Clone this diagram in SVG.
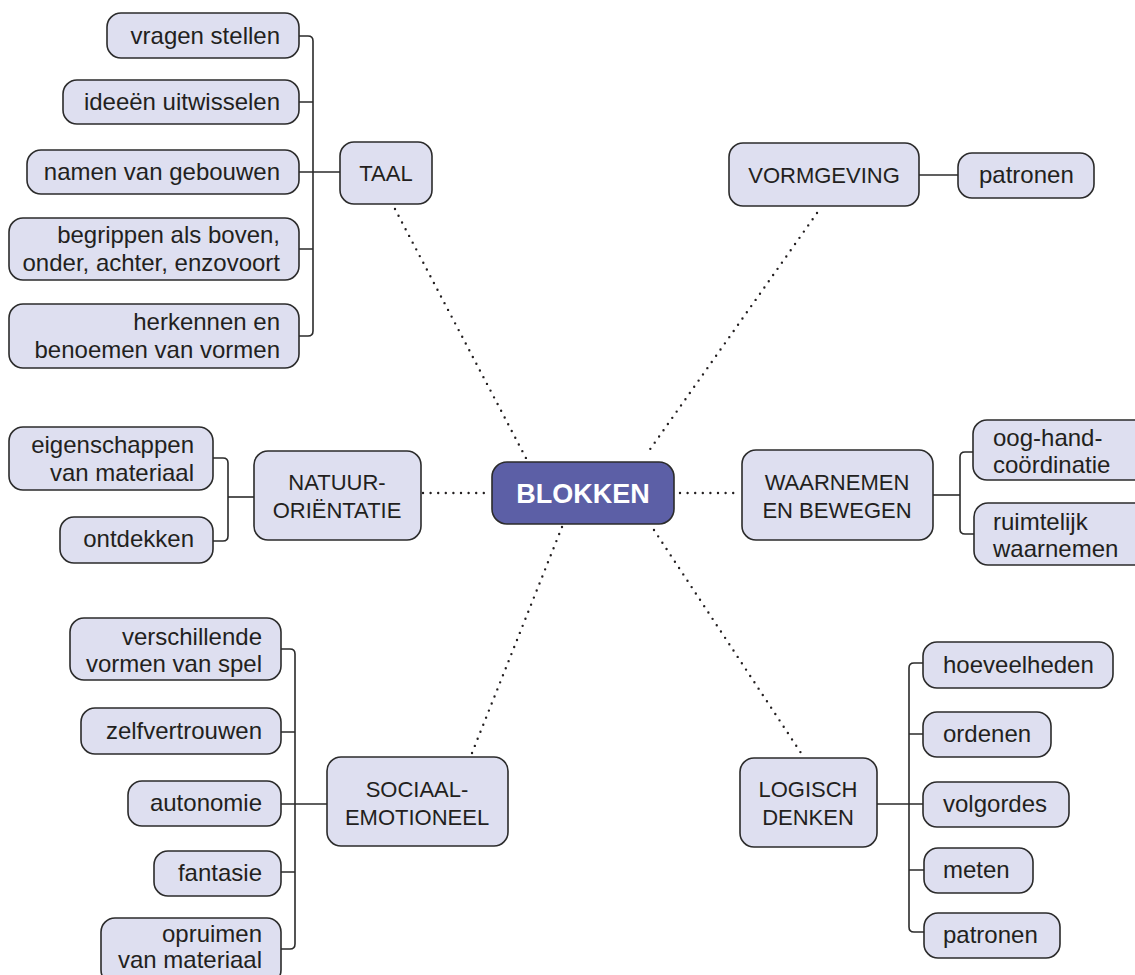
<svg xmlns="http://www.w3.org/2000/svg" width="1135" height="975" viewBox="0 0 1135 975">
<style>
.n rect{fill:#dedff0;stroke:#2b2b2b;stroke-width:1.6}
.c rect{fill:#5c5fa6;stroke:#2b2b2b;stroke-width:1.6}
text{font-family:"Liberation Sans",Arial,sans-serif;fill:#231f20}
.t{font-size:24px}
.r{text-anchor:end}
.m{text-anchor:middle}
.k{font-size:22px;text-anchor:middle}
.b{font-size:27px;font-weight:bold;fill:#ffffff;text-anchor:middle}
.ln path,.ln line{fill:none;stroke:#2b2b2b;stroke-width:1.6}
.ln .d{stroke:#231f20;stroke-width:2.4;stroke-linecap:round;stroke-dasharray:0 7.6}
</style>
<rect width="1135" height="975" fill="#ffffff"/>
<g class="ln" id="connectors">
<line class="d" x1="395" y1="209" x2="527" y2="460"/>
<line class="d" x1="817" y1="213" x2="646" y2="455"/>
<line class="d" x1="423" y1="493" x2="488" y2="493"/>
<line class="d" x1="680" y1="493" x2="740" y2="493"/>
<line class="d" x1="562" y1="527" x2="472" y2="753"/>
<line class="d" x1="654" y1="530" x2="803" y2="756"/>
<path d="M298 36H308Q313 36 313 41V331Q313 336 308 336H298"/>
<path d="M299 102H313M299 249H313M299 172H340"/>
<path d="M919 175H958"/>
<path d="M213 458H223Q228 458 228 463V536Q228 541 223 541H213"/>
<path d="M228 497H254"/>
<path d="M973 452H965Q960 452 960 457V529Q960 534 965 534H974"/>
<path d="M933 495H960"/>
<path d="M281 649H290Q295 649 295 654V944Q295 949 290 949H281"/>
<path d="M281 732H295M281 872H295M281 804H327"/>
<path d="M923 663H914Q909 663 909 668V927Q909 932 914 932H924"/>
<path d="M909 734H923M909 870H924M877 804H923"/>
</g>
<g class="c" id="blokken"><rect x="492" y="462" width="182" height="62" rx="15"/><text class="b" x="583" y="503">BLOKKEN</text></g>
<g class="n" id="taal"><rect x="340" y="142" width="92" height="62" rx="14"/><text class="k" x="386" y="181">TAAL</text></g>
<g class="n" id="vragen"><rect x="107" y="13" width="192" height="45" rx="14"/><text class="t r" x="280" y="44">vragen stellen</text></g>
<g class="n" id="ideeen"><rect x="63" y="80" width="236" height="44" rx="14"/><text class="t r" x="280" y="110">ideeën uitwisselen</text></g>
<g class="n" id="namen"><rect x="27" y="150" width="272" height="44" rx="14"/><text class="t r" x="280" y="180">namen van gebouwen</text></g>
<g class="n" id="begrippen"><rect x="9" y="218" width="290" height="62" rx="14"/><text class="t r" x="280" y="243">begrippen als boven,</text><text class="t r" x="280" y="271">onder, achter, enzovoort</text></g>
<g class="n" id="herkennen"><rect x="9" y="304" width="290" height="64" rx="14"/><text class="t r" x="280" y="330">herkennen en</text><text class="t r" x="280" y="358">benoemen van vormen</text></g>
<g class="n" id="vormgeving"><rect x="729" y="143" width="190" height="63" rx="14"/><text class="k" x="824" y="183">VORMGEVING</text></g>
<g class="n" id="patronen1"><rect x="958" y="153" width="136" height="45" rx="14"/><text class="t" x="979" y="183">patronen</text></g>
<g class="n" id="natuur"><rect x="254" y="451" width="167" height="89" rx="14"/><text class="k" x="337" y="490">NATUUR-</text><text class="k" x="337" y="518">ORIËNTATIE</text></g>
<g class="n" id="eigenschappen"><rect x="9" y="427" width="204" height="63" rx="14"/><text class="t r" x="194" y="453">eigenschappen</text><text class="t r" x="194" y="481">van materiaal</text></g>
<g class="n" id="ontdekken"><rect x="60" y="517" width="153" height="46" rx="14"/><text class="t r" x="194" y="547">ontdekken</text></g>
<g class="n" id="waarnemen"><rect x="742" y="450" width="191" height="90" rx="14"/><text class="k" x="837" y="490">WAARNEMEN</text><text class="k" x="837" y="518">EN BEWEGEN</text></g>
<g class="n" id="ooghand"><rect x="973" y="420" width="175" height="60" rx="14"/><text class="t" x="993" y="446">oog-hand-</text><text class="t" x="993" y="473">coördinatie</text></g>
<g class="n" id="ruimtelijk"><rect x="974" y="503" width="175" height="62" rx="14"/><text class="t" x="993" y="530">ruimtelijk</text><text class="t" x="993" y="557">waarnemen</text></g>
<g class="n" id="sociaal"><rect x="327" y="757" width="181" height="89" rx="14"/><text class="k" x="417" y="797">SOCIAAL-</text><text class="k" x="417" y="825">EMOTIONEEL</text></g>
<g class="n" id="verschillende"><rect x="70" y="618" width="211" height="62" rx="14"/><text class="t r" x="262" y="645">verschillende</text><text class="t r" x="262" y="672">vormen van spel</text></g>
<g class="n" id="zelfvertrouwen"><rect x="81" y="708" width="200" height="46" rx="14"/><text class="t r" x="262" y="739">zelfvertrouwen</text></g>
<g class="n" id="autonomie"><rect x="128" y="781" width="153" height="45" rx="14"/><text class="t r" x="262" y="811">autonomie</text></g>
<g class="n" id="fantasie"><rect x="154" y="851" width="127" height="45" rx="14"/><text class="t r" x="262" y="881">fantasie</text></g>
<g class="n" id="opruimen"><rect x="101" y="918" width="180" height="66" rx="14"/><text class="t r" x="262" y="942">opruimen</text><text class="t r" x="262" y="968">van materiaal</text></g>
<g class="n" id="logisch"><rect x="740" y="758" width="137" height="89" rx="14"/><text class="k" x="808" y="797">LOGISCH</text><text class="k" x="808" y="825">DENKEN</text></g>
<g class="n" id="hoeveelheden"><rect x="923" y="642" width="190" height="46" rx="14"/><text class="t" x="943" y="673">hoeveelheden</text></g>
<g class="n" id="ordenen"><rect x="923" y="712" width="128" height="45" rx="14"/><text class="t" x="943" y="742">ordenen</text></g>
<g class="n" id="volgordes"><rect x="923" y="782" width="146" height="45" rx="14"/><text class="t" x="943" y="812">volgordes</text></g>
<g class="n" id="meten"><rect x="924" y="848" width="109" height="45" rx="14"/><text class="t" x="943" y="878">meten</text></g>
<g class="n" id="patronen2"><rect x="924" y="913" width="136" height="45" rx="14"/><text class="t" x="943" y="943">patronen</text></g>
</svg>
